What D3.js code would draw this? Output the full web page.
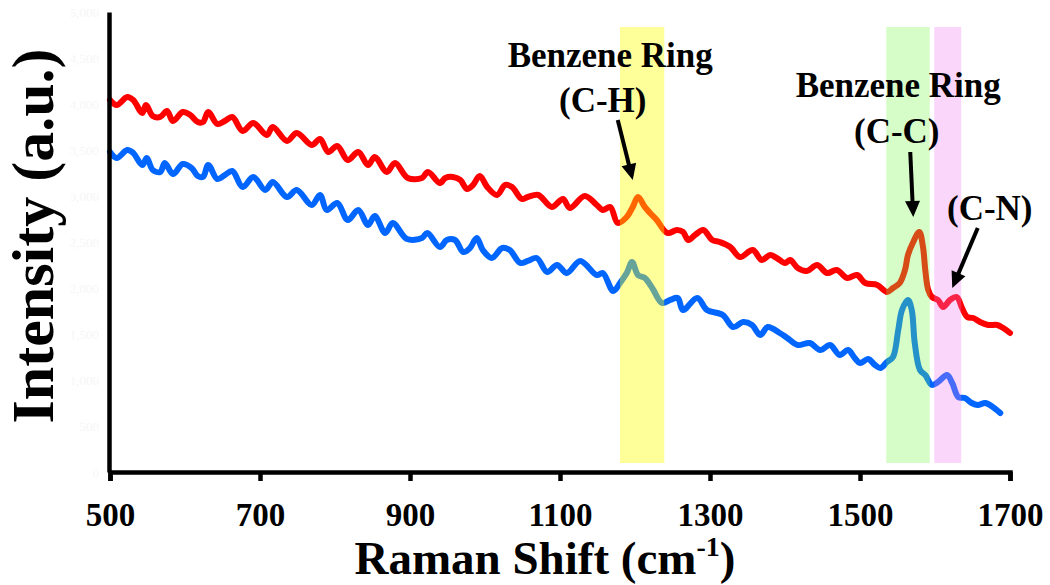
<!doctype html>
<html lang="en">
<head>
	<meta charset="UTF-8">
	<title>raman spectra | d3</title>
	<style>
		body { margin: 0; background: #fff; }
		svg { display: block; }
		text { font-family: "Liberation Serif", "Times New Roman", serif; font-weight: bold; }
		.axis path, .axis line { stroke: #000; stroke-width: 4.5; fill: none; }
		.x-axis text { font-size: 33px; fill: #000; }
		.y-axis text { font-size: 13px; fill: #f6f6f6; font-weight: normal; }
		.annot { font-size: 35px; fill: #000; }
	</style>
</head>
<body>
	<script src="https://cdn.jsdelivr.net/npm/d3@7"></script>
	<script>
		// red spectrum
		var redShift = [500,509,523,531,543,548,557,567,576,584,597,607,617,624,631,643,653,663,677,691,709,717,736,749,769,780,791,803,817,831,844,853,869,880,897,916,924,940,947,957,967,976,984,993,1003,1016,1027,1036,1049,1057,1071,1089,1104,1113,1133,1149,1157,1167,1177,1189,1197,1204,1213,1220,1229,1243,1256,1264,1271,1280,1291,1303,1313,1327,1340,1357,1369,1380,1389,1400,1407,1417,1429,1443,1456,1469,1483,1496,1507,1523,1536,1544,1553,1560,1564,1571,1579,1584,1587,1591,1596,1604,1611,1620,1629,1636,1643,1651,1660,1671,1683,1691,1700];
		var redIntensity = [4043,3989,4076,4043,3902,3989,3870,3859,3924,3815,3913,3881,3804,3804,3913,3783,3815,3859,3707,3794,3663,3750,3598,3685,3554,3620,3478,3544,3391,3478,3337,3424,3261,3359,3196,3196,3261,3141,3196,3207,3174,3076,3120,3218,3098,3011,3120,3098,2968,2989,3011,2881,2968,2870,3000,2902,2848,2881,2707,2772,2881,2989,2881,2815,2739,2598,2631,2609,2522,2576,2631,2522,2500,2446,2337,2413,2304,2359,2326,2272,2304,2217,2185,2250,2163,2196,2109,2141,2054,2033,1957,2000,2054,2196,2359,2500,2609,2446,2196,1978,1902,1870,1794,1870,1902,1783,1685,1674,1630,1598,1598,1565,1511];

		// blue spectrum
		var blueShift = [500,509,523,531,543,549,557,567,573,584,597,609,617,624,631,643,653,663,677,691,707,717,736,749,769,780,789,803,817,831,844,853,867,877,896,916,923,940,949,960,971,980,989,997,1009,1023,1033,1047,1057,1069,1083,1096,1109,1127,1149,1157,1171,1180,1189,1196,1204,1213,1223,1236,1247,1257,1264,1283,1296,1317,1331,1344,1356,1367,1377,1393,1403,1417,1433,1447,1460,1473,1484,1493,1500,1511,1520,1527,1536,1544,1551,1556,1564,1569,1573,1580,1587,1596,1604,1616,1623,1631,1640,1649,1657,1667,1677,1687];
		var blueIntensity = [3478,3413,3500,3468,3337,3413,3283,3261,3359,3239,3348,3304,3218,3207,3337,3185,3228,3272,3098,3207,3065,3152,2989,3065,2902,3011,2848,2924,2739,2848,2685,2783,2598,2707,2533,2544,2598,2446,2522,2522,2391,2435,2544,2413,2326,2435,2413,2272,2294,2326,2174,2250,2163,2294,2141,2163,1967,2054,2163,2283,2141,2109,2000,1837,1870,1891,1761,1891,1761,1707,1576,1630,1598,1489,1576,1511,1457,1380,1402,1326,1380,1272,1326,1239,1185,1228,1163,1130,1196,1250,1544,1761,1870,1761,1402,1109,1054,946,978,1054,967,815,804,750,728,750,707,641];

		var xTicks = [500, 700, 900, 1100, 1300, 1500, 1700],
			yTicks = [0, 500, 1000, 1500, 2000, 2500, 3000, 3500, 4000, 4500, 5000];

		// highlighted bands
		var bandStart = [1180, 1535, 1599],
			bandEnd = [1239, 1593, 1635];

		// labels and arrows
		var annotText = ['Benzene Ring', '(C-H)', 'Benzene Ring', '(C-C)', '(C-N)'],
			annotX = [1167, 1157, 1551, 1549, 1673],
			annotY = [4402, 3913, 4076, 3576, 2739];
		var arrowFromX = [1177, 1567, 1657],
			arrowFromY = [3826, 3478, 2652],
			arrowToX = [1197, 1571, 1623],
			arrowToY = [3174, 2772, 2000];

		var w = 1050,
			h = 585,
			padLeft = 110,
			padRight = 1010,
			padTop = 12,
			padBottom = 472;

		var svg = d3.select('body')
			.append('svg')
			.attr('width', w)
			.attr('height', h);

		var xScale = d3.scaleLinear().domain([500, 1700]).range([padLeft, padRight]);
		var yScale = d3.scaleLinear().domain([0, 5000]).range([padBottom, padTop]);

		/**
		* draw one spectrum
		*/
		var drawSpectrum = function(xs, ys, color) {
			var pts = xs.map(function(x, i) { return [x, ys[i]]; });
			var line = d3.line()
				.x(function(d) { return xScale(d[0]); })
				.y(function(d) { return yScale(d[1]); })
				.curve(d3.curveCatmullRom.alpha(0.5));
			svg.append('path')
				.datum(pts)
				.attr('d', line)
				.attr('fill', 'none')
				.attr('stroke', color)
				.attr('stroke-width', 6)
				.attr('stroke-linejoin', 'round')
				.attr('stroke-linecap', 'round');
		};

		/**
		* axes
		*/
		var drawAxes = function() {
			svg.append('g')
				.attr('class', 'axis y-axis')
				.attr('transform', 'translate(' + (padLeft - 1) + ',0)')
				.call(d3.axisLeft(yScale).tickValues(yTicks).tickSize(0).tickPadding(10));

			svg.append('g')
				.attr('class', 'axis x-axis')
				.attr('transform', 'translate(0,' + padBottom + ')')
				.call(d3.axisBottom(xScale).tickValues(xTicks).tickSize(9).tickPadding(22).tickFormat(d3.format('d')));

			svg.append('text')
				.attr('x', 545)
				.attr('y', 574)
				.attr('text-anchor', 'middle')
				.style('font-size', '47px')
				.text('Raman Shift (cm')
				.append('tspan')
				.attr('dy', -18)
				.style('font-size', '28px')
				.text('-1')
				.append('tspan')
				.attr('dy', 18)
				.style('font-size', '47px')
				.text(')');

			svg.append('text')
				.attr('transform', 'translate(53,236) rotate(-90)')
				.attr('text-anchor', 'middle')
				.style('font-size', '60px')
				.text('Intensity (a.u.)');
		};

		/**
		* translucent bands over the spectra
		*/
		var drawBands = function() {
			var colors = ['#ffff00', '#76f848', '#ee76ee'],
				opac = [0.4, 0.3, 0.3];
			bandStart.forEach(function(s, i) {
				svg.append('rect')
					.attr('x', xScale(s))
					.attr('width', xScale(bandEnd[i]) - xScale(s))
					.attr('y', 27)
					.attr('height', 463 - 27)
					.attr('fill', colors[i])
					.attr('fill-opacity', opac[i]);
			});
		};

		/**
		* labels with arrows
		*/
		var drawAnnotations = function() {
			annotText.forEach(function(t, i) {
				svg.append('text')
					.attr('class', 'annot')
					.attr('x', xScale(annotX[i]))
					.attr('y', yScale(annotY[i]))
					.attr('text-anchor', 'middle')
					.text(t);
			});

			arrowFromX.forEach(function(fx, i) {
				var x1 = xScale(fx), y1 = yScale(arrowFromY[i]),
					x2 = xScale(arrowToX[i]), y2 = yScale(arrowToY[i]);
				var dx = x2 - x1, dy = y2 - y1,
					len = Math.sqrt(dx * dx + dy * dy),
					ux = dx / len, uy = dy / len,
					head = 16, half = 7.5;
				var bx = x2 - ux * head, by = y2 - uy * head;
				svg.append('line')
					.attr('x1', x1).attr('y1', y1)
					.attr('x2', bx + ux * 2).attr('y2', by + uy * 2)
					.attr('stroke', '#000')
					.attr('stroke-width', 4);
				svg.append('path')
					.attr('d', 'M' + x2 + ',' + y2 +
						'L' + (bx - uy * half) + ',' + (by + ux * half) +
						'L' + (bx + uy * half) + ',' + (by - ux * half) + 'Z')
					.attr('fill', '#000');
			});
		};

		drawSpectrum(redShift, redIntensity, '#ff0000');
		drawSpectrum(blueShift, blueIntensity, '#0066ff');
		drawBands();
		drawAxes();
		drawAnnotations();
	</script>
</body>
</html>
